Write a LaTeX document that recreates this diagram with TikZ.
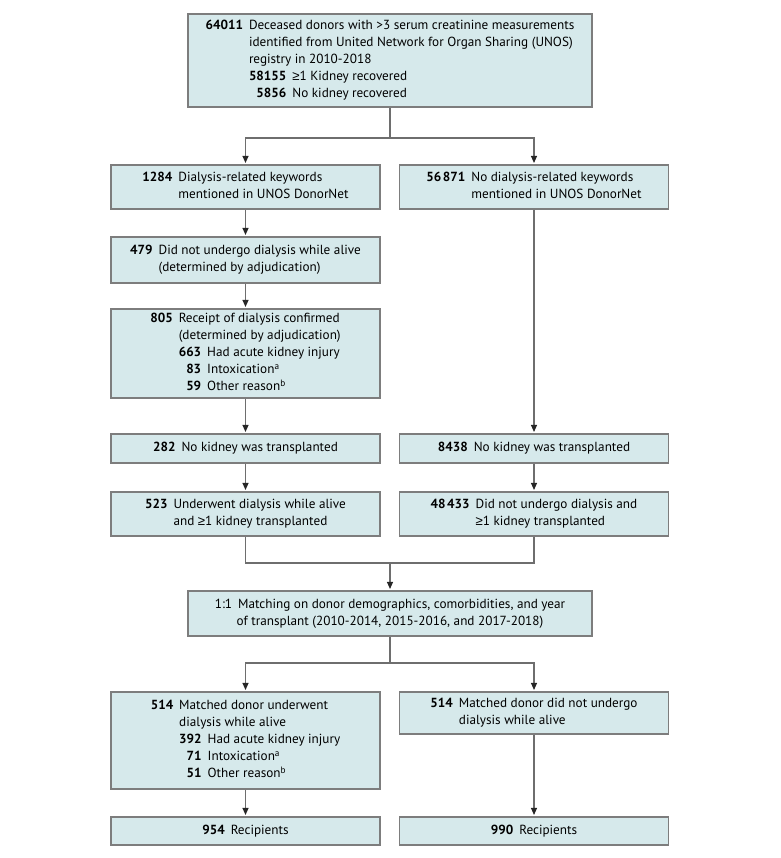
\documentclass[tikz,border=0pt]{standalone}
\usepackage{fontspec}
\setmainfont{PT Sans}
\newfontfamily\symfont{Liberation Sans}
\usepackage{tikz}
\usetikzlibrary{arrows.meta,positioning}

\definecolor{boxfill}{RGB}{214,233,235}
\definecolor{boxline}{RGB}{125,125,125}
\definecolor{conline}{RGB}{110,110,110}

% number column, sub number column, text column
\newcommand{\nlist}[1]{\begin{tabular}{@{}r@{\hspace{6pt}}r@{\hspace{6pt}}l@{}}#1\end{tabular}}
\newcommand{\wide}[1]{\multicolumn{2}{@{}l@{}}{#1}}
\newcommand{\atleast}{{\symfont ≥}}
\newcommand{\thsep}{\hspace{1.5pt}}

\tikzset{
  box/.style={draw=boxline, fill=boxfill, line width=1.1pt, inner sep=0pt,
    align=center, minimum width=269, font=\fontsize{13.2}{17}\selectfont},
  bigbox/.style={box, minimum width=404},
  line/.style={draw=conline, line width=1.1pt},
  arrow/.style={line, -{Triangle[length=7pt,width=6pt,color=black!85]}, shorten >=1.5pt}
}

\begin{document}
\begin{tikzpicture}[x=1pt,y=-1pt]
\useasboundingbox (0,0) rectangle (780,858);

%Donors
\node[bigbox, minimum height=93] (donors) at (390,60.5) {\nlist{
\textbf{64011} & \wide{Deceased donors with >3 serum creatinine measurements}\\
 & \wide{identified from United Network for Organ Sharing (UNOS)}\\
 & \wide{registry in 2010-2018}\\
 & \textbf{58155} & \atleast 1 Kidney recovered\\
 & \textbf{5856} & No kidney recovered}};

%Keywords
\node[box, minimum height=44] (kw) at (245.5,187) {\nlist{
\textbf{1284} & \wide{Dialysis-related keywords}\\
 & \wide{mentioned in UNOS DonorNet}}};
\node[box, minimum height=44] (nokw) at (534,187) {\nlist{
\textbf{56\thsep 871} & \wide{No dialysis-related keywords}\\
 & \wide{mentioned in UNOS DonorNet}}};

%Adjudication
\node[box, minimum height=46] (nodial) at (245.5,260) {\nlist{
\textbf{479} & \wide{Did not undergo dialysis while alive}\\
 & \wide{(determined by adjudication)}}};
\node[box, minimum height=89] (dial) at (245.5,353.5) {\nlist{
\textbf{805} & \wide{Receipt of dialysis confirmed}\\
 & \wide{(determined by adjudication)}\\
 & \textbf{663} & Had acute kidney injury\\
 & \textbf{83} & Intoxication\textsuperscript{a}\\
 & \textbf{59} & Other reason\textsuperscript{b}}};

%Transplant
\node[box, minimum height=29] (notx) at (245.5,448.5) {\textbf{282}\hspace{6pt}No kidney was transplanted};
\node[box, minimum height=29] (notxb) at (534,448.5) {\textbf{8438}\hspace{6pt}No kidney was transplanted};
\node[box, minimum height=44] (dialtx) at (245.5,514) {\nlist{
\textbf{523} & \wide{Underwent dialysis while alive}\\
 & \wide{and \atleast 1 kidney transplanted}}};
\node[box, minimum height=44] (nodialtx) at (534,514) {\nlist{
\textbf{48\thsep 433} & \wide{Did not undergo dialysis and}\\
 & \wide{\atleast 1 kidney transplanted}}};

%Matching
\node[bigbox, minimum height=45] (match) at (390,613.5) {1:1\hspace{6pt}Matching on donor demographics, comorbidities, and year\\
of transplant (2010-2014, 2015-2016, and 2017-2018)};

\node[box, minimum height=97] (mdial) at (245.5,740.5) {\nlist{
\textbf{514} & \wide{Matched donor underwent}\\
 & \wide{dialysis while alive}\\
 & \textbf{392} & Had acute kidney injury\\
 & \textbf{71} & Intoxication\textsuperscript{a}\\
 & \textbf{51} & Other reason\textsuperscript{b}}};
\node[box, minimum height=42] (mnodial) at (534,713) {\nlist{
\textbf{514} & \wide{Matched donor did not undergo}\\
 & \wide{dialysis while alive}}};

%Recipients
\node[box, minimum height=28] (recip) at (245.5,831) {\textbf{954}\hspace{6pt}Recipients};
\node[box, minimum height=28] (recipb) at (534,831) {\textbf{990}\hspace{6pt}Recipients};

% connectors
\coordinate (split) at (390,138);
\coordinate (join) at (390,563);
\coordinate (msplit) at (390,663);

\draw[line] (donors) -- (split);
\draw[arrow] (split) -| (kw);
\draw[arrow] (split) -| (nokw);
\draw[arrow] (kw) -- (nodial);
\draw[arrow] (nodial) -- (dial);
\draw[arrow] (dial) -- (notx);
\draw[arrow] (notx) -- (dialtx);
\draw[arrow] (nokw) -- (notxb);
\draw[arrow] (notxb) -- (nodialtx);
\draw[line] (dialtx) |- (join);
\draw[line] (nodialtx) |- (join);
\draw[arrow] (join) -- (match);
\draw[line] (match) -- (msplit);
\draw[arrow] (msplit) -| (mdial);
\draw[arrow] (msplit) -| (mnodial);
\draw[arrow] (mdial) -- (recip);
\draw[arrow] (mnodial) -- (recipb);

\end{tikzpicture}
\end{document}
